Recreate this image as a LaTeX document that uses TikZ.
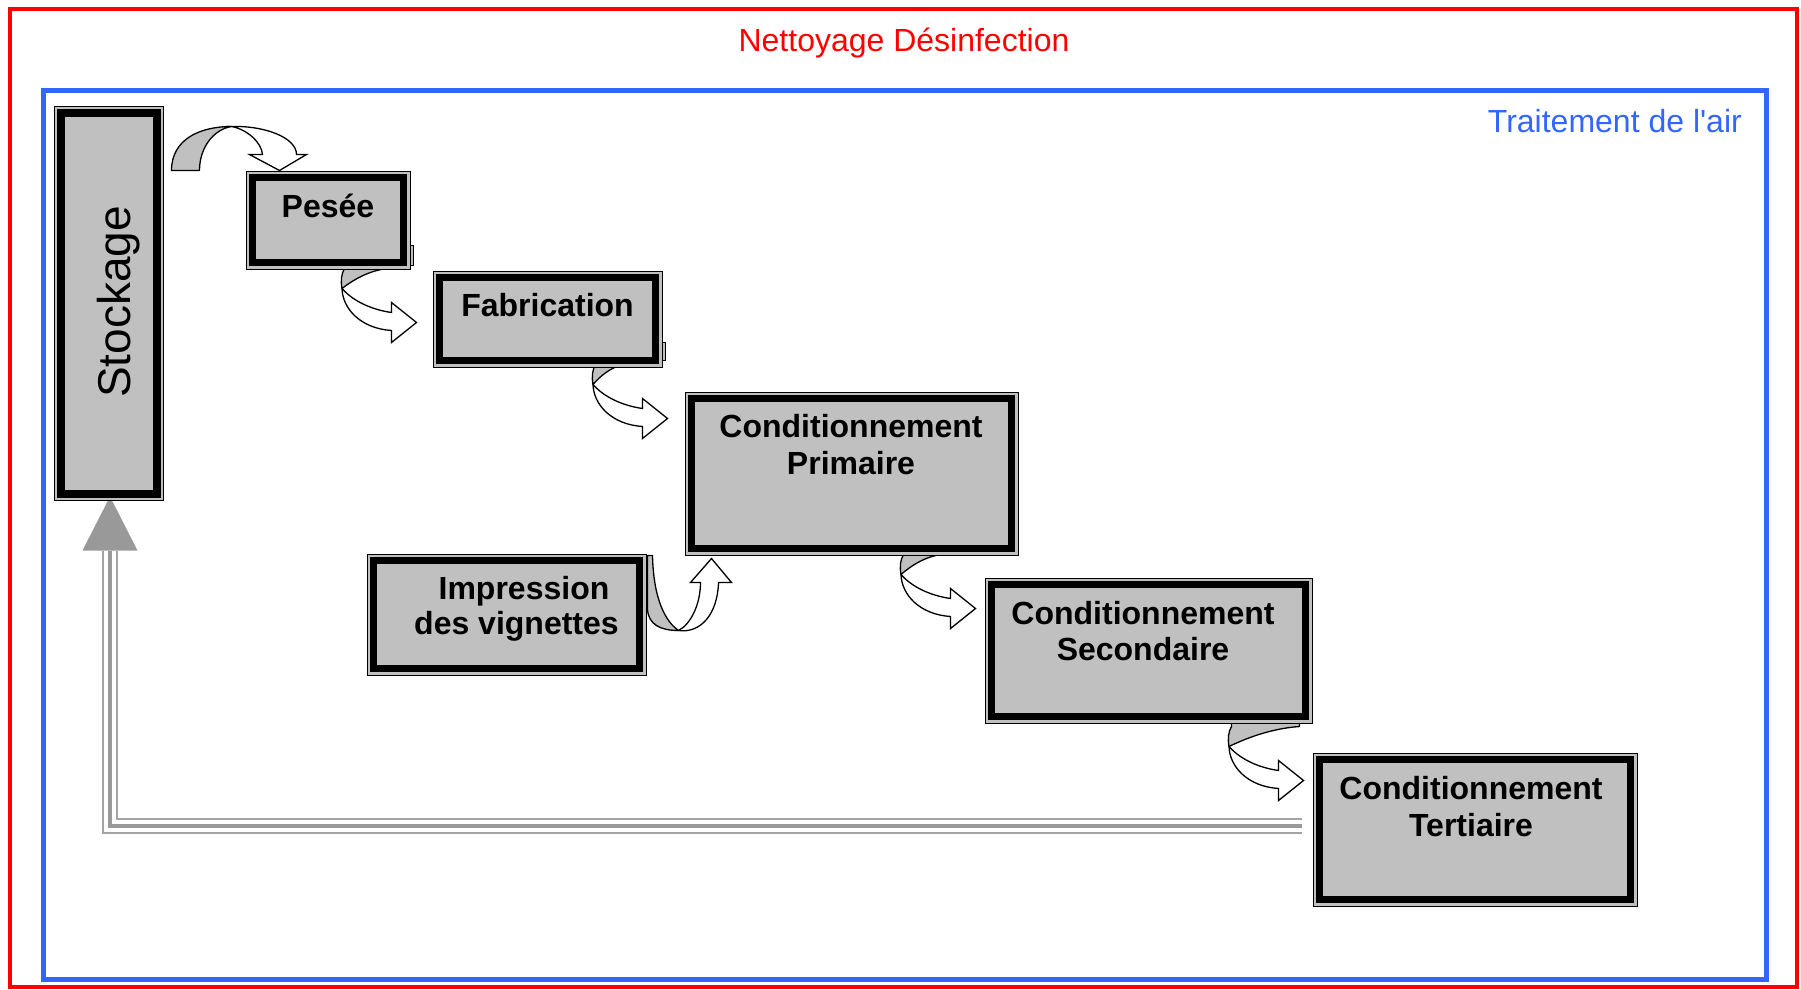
\documentclass[tikz,border=0pt]{standalone}
\usepackage{fontspec}
\setmainfont{Liberation Sans}[Ligatures=TeXOff]
\usetikzlibrary{calc}
\pgfdeclarelayer{back}
\pgfsetlayers{back,main}
\definecolor{boxgray}{HTML}{C0C0C0}
\definecolor{framered}{HTML}{FF0000}
\definecolor{frameblue}{HTML}{3366FF}
\definecolor{returngray}{HTML}{A4A4A4}
\definecolor{returndark}{HTML}{999999}

\tikzset{
  % process box: thin outer line, light gap, heavy inner frame
  procbox/.style={rectangle, inner sep=0pt, fill=boxgray, draw=black, line width=1pt,
    path picture={\draw[line width=#1]
      ([xshift=6.5pt,yshift=6.5pt]path picture bounding box.south west) rectangle
      ([xshift=-6.5pt,yshift=-6.5pt]path picture bounding box.north east);}},
  procbox/.default=7.5pt,
  boxtext/.style={font=\bfseries\fontsize{32}{36.5}\selectfont, align=center, inner sep=0pt},
  ribbonback/.style={fill=boxgray, draw=black, line width=1.3pt, line join=round},
  ribbonfront/.style={fill=white, draw=black, line width=1.3pt, line join=miter},
  % curved ribbon arrow: leaves a box downwards, turns right
  pics/ribbon/.style={code={
    \filldraw[ribbonback] (4,-5) -- (4,0) .. controls (1,5) and (0,12) .. (1.5,20)
      .. controls ({#1*0.25},12) and ({#1*0.6},2) .. (#1,0) -- (#1,-5) -- cycle;
    \filldraw[ribbonfront] (1.5,20) .. controls (2,40) and (20,60) .. (51,62)
      -- (51,74) -- (76,54) -- (51,34) -- (51,44)
      .. controls (30,41) and (12,32) .. (1.5,20) -- cycle;
  }}
}

\begin{document}
\begin{tikzpicture}[x=1pt, y=-1pt]
\useasboundingbox (0,0) rectangle (1801,990);

% process boxes
\node[procbox=8pt, minimum width=109pt, minimum height=394pt] (stock) at (108.5,303) {};
\node[procbox, minimum width=164pt, minimum height=98pt]  (pesee) at (328,220) {};
\node[procbox, minimum width=229pt, minimum height=96pt]  (fab)   at (547.5,319) {};
\node[procbox, minimum width=333pt, minimum height=163pt] (cp)    at (851.5,473.5) {};
\node[procbox, minimum width=279pt, minimum height=121pt] (imp)   at (506.5,614.5) {};
\node[procbox, minimum width=327pt, minimum height=145pt] (cs)    at (1148.5,650.5) {};
\node[procbox, minimum width=324pt, minimum height=153pt] (ct)    at (1475,829.5) {};

% box labels (base anchor = baseline of the last line)
\node[font=\fontsize{46}{50}\selectfont, rotate=90, anchor=base, inner sep=0pt]
  (stockT) at ($(stock.south)+(21.5,-198.5)$) {Stockage};
\node[boxtext, anchor=base] (peseeT) at ($(pesee.north)+(0,47)$) {Pesée};
\node[boxtext, anchor=base] (fabT)   at ($(fab.north)+(0,46)$) {Fabrication};
\node[boxtext, anchor=base] (cpT)    at ($(cp.north)+(-0.5,82.5)$) {Conditionnement\\Primaire};
\node[boxtext, anchor=base] (impT)   at ($(imp.north)+(10,81)$) {\hspace*{15pt}Impression\\[-1.5pt]des vignettes};
\node[boxtext, anchor=base] (csT)    at ($(cs.north)+(-5.5,83)$) {Conditionnement\\Secondaire};
\node[boxtext, anchor=base] (ctT)    at ($(ct.north)+(-4,84)$) {Conditionnement\\[0.5pt]Tertiaire};

% zone titles
\node[font=\fontsize{32}{37}\selectfont, text=framered, anchor=base, inner sep=0pt]
  (nett) at (904,51.5) {Nettoyage Désinfection};
\node[font=\fontsize{32}{37}\selectfont, text=frameblue, anchor=base east, inner sep=0pt]
  (air) at (1742,132) {Traitement de l'air};

\begin{pgfonlayer}{back}
  \fill[white] (0,0) rectangle (1801,990);
  % zone frames
  \draw[framered, line width=4pt] (10,9) rectangle (1797,987);
  \draw[frameblue, line width=5pt] (43.5,90) rectangle (1766,979);

  % return flow from the last stage back to storage
  \coordinate (retA) at ($(ct.west)+(-11,-3.5)$);
  \coordinate (retB) at ($(stock.south)+(1.5,50)$);
  \draw[returngray, line width=16.5pt] (retA) -| (retB);
  \draw[white, line width=12.5pt] (retA) -| (retB);
  \draw[returndark, line width=4pt] (retA) -| (retB);
  \fill[returndark] ($(stock.south)+(1.5,-4)$) -- ($(stock.south)+(29,50)$)
    -- ($(stock.south)+(-26,50)$) -- cycle;

  % small ribbon tabs on box edges
  \filldraw[fill=boxgray, draw=black, line width=0.8pt]
    ($(pesee.south east)+(-2,-24)$) rectangle ($(pesee.south east)+(3,-4)$);
  \filldraw[fill=boxgray, draw=black, line width=0.8pt]
    ($(fab.south east)+(-2,-25)$) rectangle ($(fab.south east)+(3,-7)$);

  % storage -> weighing (arched arrow)
  \begin{scope}[shift={(pesee.north west)}]
    \filldraw[ribbonback] (-74,0) .. controls (-74,-31) and (-46,-44) .. (-14,-44)
      .. controls (-32,-41) and (-46,-23) .. (-46,0) -- cycle;
    \filldraw[ribbonfront] (-14,-44) .. controls (19,-45) and (51,-33) .. (51,-16)
      -- (61,-16) -- (34,0) -- (4,-16) -- (17,-16)
      .. controls (16,-28) and (2,-41) .. (-14,-44) -- cycle;
  \end{scope}

  % stage to stage ribbons
  \pic at ($(pesee.south west)+(95,-1)$) {ribbon=47};
  \pic at ($(fab.south west)+(159,-3)$) {ribbon=33};
  \pic at ($(cp.south west)+(215,-1)$) {ribbon=42};
  \pic at ($(cs.south west)+(243,3)$) {ribbon=72};

  % label printing -> primary packaging (upward arrow)
  \begin{scope}[shift={(imp.north east)}]
    \filldraw[ribbonback] (1,2) -- (1,56) .. controls (2,71) and (14,77) .. (32,77)
      .. controls (19,68) and (7,46) .. (6,2) -- cycle;
    \filldraw[ribbonfront] (32,77) .. controls (54,80) and (71,61) .. (72,29)
      -- (85,29) -- (65,5) -- (44,29) -- (54,29)
      .. controls (54,51) and (44,71) .. (32,77) -- cycle;
  \end{scope}
\end{pgfonlayer}
\end{tikzpicture}
\end{document}
